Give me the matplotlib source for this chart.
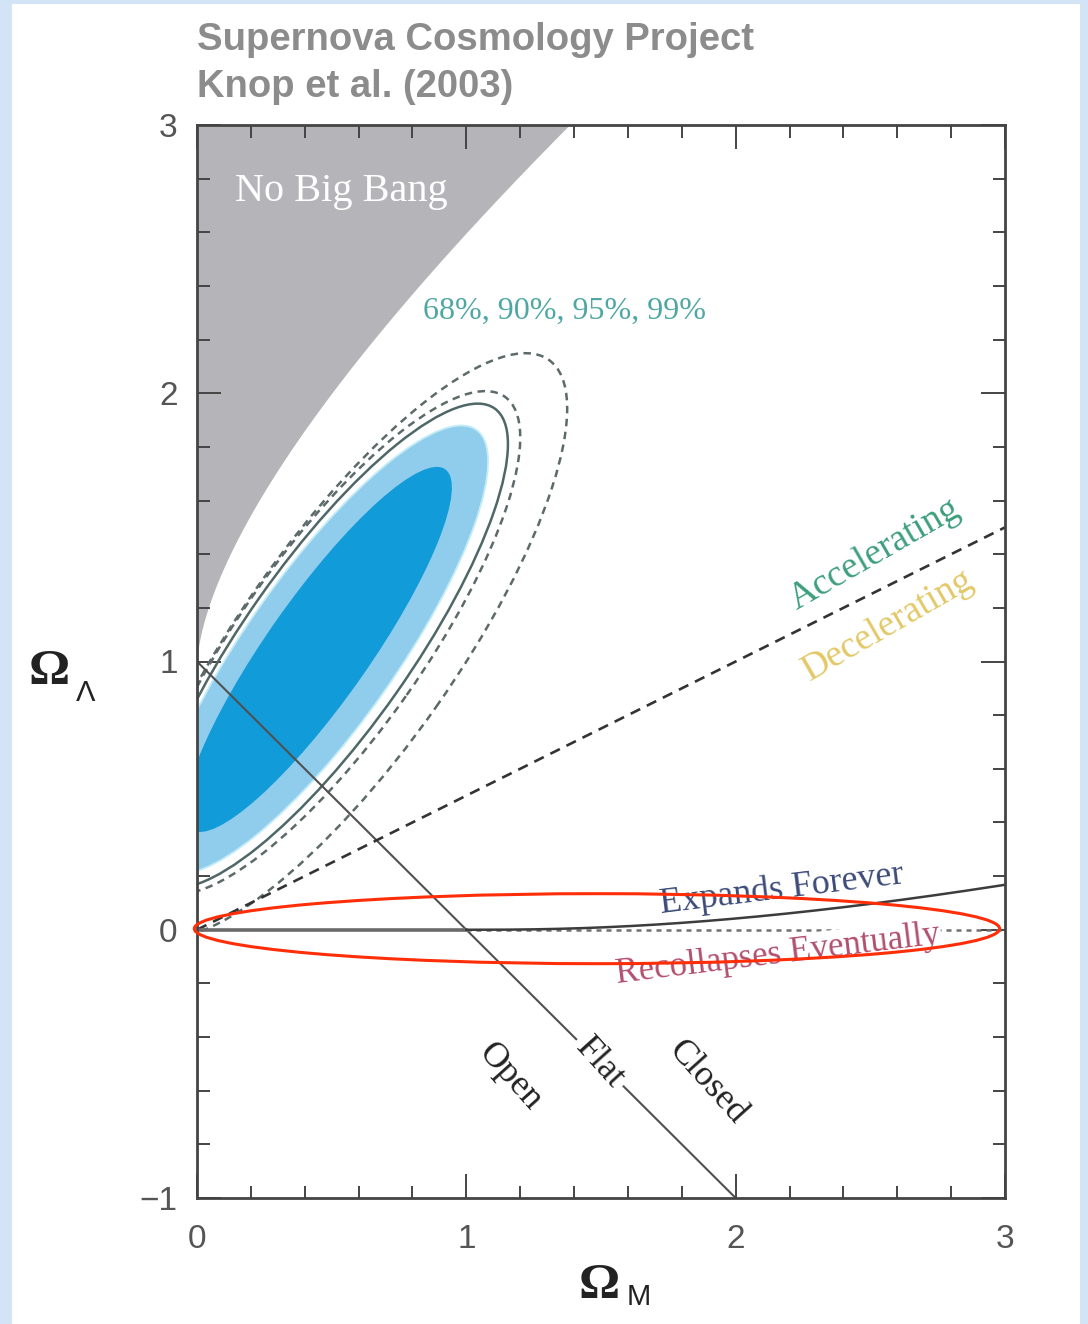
import numpy as np
import matplotlib
matplotlib.use("Agg")
import matplotlib.pyplot as plt
from matplotlib.patches import Ellipse, Rectangle
from matplotlib.ticker import MultipleLocator

# ---- axis ranges and tick labels ----
om_range = [0, 3]
ol_range = [-1, 3]
x_ticks = [0, 1, 2, 3]
x_tick_labels = ["0", "1", "2", "3"]
y_ticks = [-1, 0, 1, 2, 3]
y_tick_labels = ["\u22121", "0", "1", "2", "3"]

# ---- confidence regions (inner to outer): centre, semi-axes, common tilt ----
region_levels = ["68%", "90%", "95%", "99%", "outer"]
center_om = [0.451, 0.463, 0.485, 0.500, 0.560]
center_ol = [1.045, 1.045, 1.059, 1.070, 1.060]
semi_major = [0.82, 1.00, 1.08, 1.12, 1.30]
semi_minor = [0.19, 0.28, 0.31, 0.34, 0.40]
region_angle = 55.0          # degrees

# ---- annotation ellipse around the Omega_Lambda = 0 line ----
ring_center = (1.485, 0.004)
ring_size = (2.99, 0.261)

SERIF = ["Liberation Serif", "DejaVu Serif"]
SANS = ["Liberation Sans", "DejaVu Sans"]


def no_big_bang(om):
    """Lower edge of the 'No Big Bang' region."""
    om = np.asarray(om, dtype=float)
    out = np.empty_like(om)
    lo = om <= 0.5
    r = (1 - om[lo]) / om[lo]
    out[lo] = 4 * om[lo] * np.cosh(np.arccosh(r) / 3) ** 3
    r = (1 - om[~lo]) / om[~lo]
    out[~lo] = 4 * om[~lo] * np.cos(np.arccos(r) / 3) ** 3
    return out


def expands_forever(om):
    """Boundary between eternal expansion and recollapse for Omega_M > 1."""
    om = np.asarray(om, dtype=float)
    r = (1 - om) / om
    return 4 * om * np.cos(np.arccos(r) / 3 + 4 * np.pi / 3) ** 3


def region(i, **kw):
    return Ellipse((center_om[i], center_ol[i]), 2 * semi_major[i],
                   2 * semi_minor[i], angle=region_angle, **kw)


W, H = 1088, 1324
fig = plt.figure(figsize=(W / 100, H / 100), dpi=100)
fig.patch.set_facecolor("#d3e4f6")
fig.add_artist(Rectangle((12 / W, 0), (1080 - 12) / W, 1 - 4 / H,
                         transform=fig.transFigure, facecolor="white",
                         edgecolor="none", zorder=0))

ax = fig.add_axes([197 / W, (H - 1198) / H, (1005 - 197) / W, (1198 - 125) / H])
ax.set_xlim(*om_range)
ax.set_ylim(*ol_range)
ax.set_facecolor("white")

# No Big Bang shading
om_grid = np.linspace(1e-5, 1.6, 800)
ax.fill_between(om_grid, no_big_bang(om_grid), 3.5, color="#b5b5b9",
                linewidth=0, zorder=1)

# confidence regions
ax.add_patch(region(1, facecolor="#90cdec", edgecolor="#c4ecf7", lw=1.3, zorder=2))
ax.add_patch(region(0, facecolor="#129bd9", edgecolor="none", zorder=3))
ax.add_patch(region(2, facecolor="none", edgecolor="#4f6767", lw=1.8, zorder=4))
for i in (3, 4):
    ax.add_patch(region(i, facecolor="none", edgecolor="#5d6a6a", lw=1.8,
                        linestyle=(0, (3, 2.2)), zorder=4))

# flat universe line
om_line = np.linspace(0, 2, 50)
ax.plot(om_line, 1 - om_line, color="#505050", lw=1.5, zorder=5)

# accelerating / decelerating line (q0 = 0)
om_full = np.linspace(0, 3, 50)
ax.plot(om_full, om_full / 2, color="#333333", lw=1.9,
        linestyle=(0, (4, 2.8)), zorder=5)

# expansion / recollapse boundary
ax.plot([0, 1], [0, 0], color="#6a6a6a", lw=2.6, zorder=5)
ax.plot([1, 3], [0, 0], color="#707070", lw=1.8, linestyle=(0, (2, 2)), zorder=5)
om_ex = np.linspace(1, 3, 200)
ax.plot(om_ex, expands_forever(om_ex), color="#3c3c3c", lw=1.8, zorder=6)

# labels inside the plot
ax.text(0.535, 2.751, "No Big Bang", family=SERIF, fontsize=29,
        color="white", ha="center", va="center", zorder=7)
ax.text(1.363, 2.304, "68%, 90%, 95%, 99%", family=SERIF, fontsize=23,
        color="#4fa7a4", ha="center", va="center", zorder=7)
ax.text(2.518, 1.398, "Accelerating", family=SERIF, fontsize=27,
        color="#3e9f7c", ha="center", va="center", rotation=30, zorder=7)
ax.text(2.566, 1.137, "Decelerating", family=SERIF, fontsize=27,
        color="#e2c866", ha="center", va="center", rotation=30, zorder=7)
ax.text(2.172, 0.152, "Expands Forever", family=SERIF, fontsize=26,
        color="#3d4b78", ha="center", va="center", rotation=7, zorder=7)
ax.text(2.157, -0.093, "Recollapses Eventually", family=SERIF, fontsize=25,
        color="#b2506e", ha="center", va="center", rotation=7, zorder=7,
        bbox=dict(facecolor="white", edgecolor="none", pad=1))
ax.text(1.162, -0.548, "Open", family=SERIF, fontsize=26, color="#222222",
        ha="center", va="center", rotation=-48, zorder=7)
ax.text(1.496, -0.496, "Flat", family=SERIF, fontsize=26, color="#222222",
        ha="center", va="center", rotation=-48, zorder=7,
        bbox=dict(facecolor="white", edgecolor="none", pad=3))
ax.text(1.894, -0.570, "Closed", family=SERIF, fontsize=26, color="#222222",
        ha="center", va="center", rotation=-48, zorder=7)

# highlight ring
ax.add_patch(Ellipse(ring_center, ring_size[0], ring_size[1], facecolor="none",
                     edgecolor="#ff2e08", lw=2.2, clip_on=False, zorder=10))

# ticks and frame
ax.set_xticks(x_ticks)
ax.set_xticklabels(x_tick_labels)
ax.set_yticks(y_ticks)
ax.set_yticklabels(y_tick_labels)
ax.xaxis.set_minor_locator(MultipleLocator(0.2))
ax.yaxis.set_minor_locator(MultipleLocator(0.2))
ax.tick_params(which="both", direction="in", top=True, right=True,
               color="#444444", width=1.4)
ax.tick_params(which="major", length=17)
ax.tick_params(which="minor", length=9)
ax.tick_params(axis="x", which="major", pad=19, labelsize=24, labelcolor="#555555")
ax.tick_params(axis="y", which="major", pad=14, labelsize=24, labelcolor="#555555")
for lab in ax.get_xticklabels() + ax.get_yticklabels():
    lab.set_family(SANS)
for sp in ax.spines.values():
    sp.set_color("#444444")
    sp.set_linewidth(2.0)
    sp.set_zorder(8)

# axis titles
fig.text(29 / W, 1 - 684 / H, "\u03a9", family=SERIF, fontsize=37,
         fontweight="bold", color="#222222", va="baseline", ha="left")
fig.text(76 / W, 1 - 701 / H, "\u039b", family=SANS, fontsize=21,
         color="#222222", va="baseline", ha="left")
fig.text(579 / W, 1 - 1298 / H, "\u03a9", family=SERIF, fontsize=37,
         fontweight="bold", color="#222222", va="baseline", ha="left")
fig.text(627 / W, 1 - 1305 / H, "M", family=SANS, fontsize=21,
         color="#222222", va="baseline", ha="left")

# heading
fig.text(197 / W, 1 - 50 / H, "Supernova Cosmology Project", family=SANS,
         fontsize=27.5, fontweight="bold", color="#8c8c8c", va="baseline")
fig.text(197 / W, 1 - 97 / H, "Knop et al. (2003)", family=SANS,
         fontsize=27.5, fontweight="bold", color="#8c8c8c", va="baseline")

fig.savefig("out.png", dpi=100)
